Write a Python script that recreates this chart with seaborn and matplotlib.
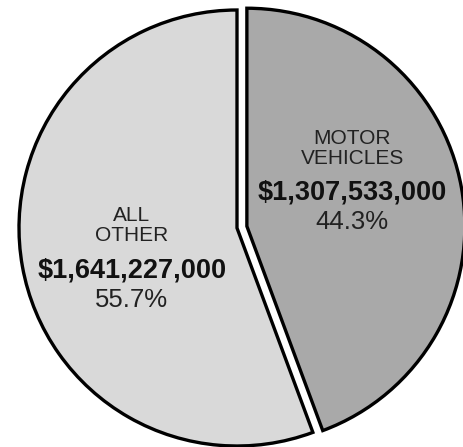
import matplotlib
matplotlib.use("Agg")
import matplotlib.pyplot as plt
import seaborn as sns

# data
categorias = ["MOTOR\nVEHICLES", "ALL\nOTHER"]
valores = [1307533000, 1641227000]
percentuais = ["44.3%", "55.7%"]
cores = ["#a9a9a9", "#d9d9d9"]

sns.set_theme(style="white")
plt.rcParams['font.family'] = ['Liberation Sans', 'DejaVu Sans']

fig = plt.figure(figsize=(4.64, 4.47), dpi=100)
ax = fig.add_axes([0, 0, 1, 1])

wedges, _ = ax.pie(
    valores,
    colors=cores,
    startangle=90,
    counterclock=False,
    explode=[0.046, 0],
    radius=1,
    wedgeprops=dict(edgecolor="black", linewidth=2.4),
)

# posicao da linha do valor em cada fatia
pos = [(0.528, 0.161), (-0.482, -0.193)]
for (x, y), cat, v, p in zip(pos, categorias, valores, percentuais):
    ax.text(x, y + 0.205, cat, ha="center", va="center", fontsize=15,
            linespacing=1.05, color="#222222")
    ax.text(x, y, "${:,}".format(v), ha="center", va="center",
            fontsize=19.5, fontweight="bold", color="#111111")
    ax.text(x, y - 0.135, p, ha="center", va="center", fontsize=18.5,
            color="#222222")

ax.set_xlim(-237 / 218, (464 - 237) / 218)
ax.set_ylim(-(447 - 228) / 218, 228 / 218)
ax.set_aspect("auto")
ax.axis("off")

fig.savefig("out.png", dpi=100, facecolor="white")
